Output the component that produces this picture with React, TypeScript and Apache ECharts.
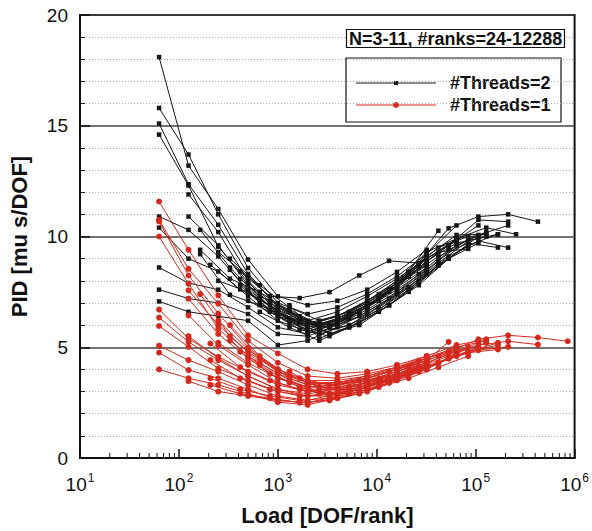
import React, { useEffect, useRef } from 'react';
import * as echarts from 'echarts';

const FONT = '"Liberation Sans", Arial, Helvetica, sans-serif';

// Load columns [DOF/rank] (rank count doubles between neighbouring points)
const XA = [63, 125, 250, 500, 1000, 2000, 4000, 8000, 16000, 32000, 64000, 128000, 256000, 512000];
const XE = [82, 164, 328, 656, 1312, 2624, 5248, 10496, 20992, 41984, 83968, 167936, 335872, 671744];
const XF = [104, 208, 416, 832, 1664, 3328, 6656, 13312, 26624, 53248, 106496, 212992, 425984, 851968];

type Run = { cols: number[]; start: number; pid: number[] };

// #Threads=2 (black)
const threads2: Run[] = [
  { cols: XA, start: 0, pid: [18.1, 13.2, 11.24, 8.96, 7.3, 6.9, 7.1, 7.6, 8.4, 9.4] },
  { cols: XA, start: 0, pid: [15.8, 13.7, 11.0, 8.58, 7.0, 6.5, 6.8, 7.4, 8.2, 9.2] },
  { cols: XA, start: 0, pid: [15.1, 12.36, 10.53, 8.31, 6.8, 6.2, 6.6, 7.3, 8.1, 9.0] },
  { cols: XA, start: 0, pid: [14.6, 12.3, 9.54, 7.94, 6.6, 6.0, 6.4, 7.1, 7.9, 8.8] },
  { cols: XA, start: 0, pid: [10.9, 10.3, 9.1, 7.52, 6.4, 5.8, 6.3, 7.0, 7.8, 8.7] },
  { cols: XA, start: 0, pid: [10.4, 9.0, 8.42, 7.3, 6.2, 5.7, 6.2, 6.9, 7.7, 8.6] },
  { cols: XA, start: 0, pid: [8.6, 7.9, 7.6, 6.8, 5.9, 5.6, 6.1, 6.8, 7.6, 8.5] },
  { cols: XA, start: 0, pid: [7.6, 7.2, 7.0, 6.5, 5.6, 5.5, 6.0, 6.7, 7.5, 8.4] },
  { cols: XA, start: 0, pid: [7.07, 6.6, 6.4, 6.2, 5.1, 5.3, 5.9, 6.6, 7.4, 8.3] },
  { cols: XA, start: 1, pid: [11.9, 10.2, 8.0, 6.7, 6.1, 6.4, 7.0, 7.9, 9.0, 9.8] },
  { cols: XA, start: 1, pid: [10.9, 9.6, 7.8, 6.5, 5.9, 6.3, 6.9, 7.8, 9.2, 10.5] },
  { cols: XA, start: 2, pid: [9.3, 8.2, 6.9, 6.1, 6.0, 6.5, 7.4, 8.5, 9.6, 10.2] },
  { cols: XA, start: 2, pid: [8.0, 7.5, 6.6, 5.9, 6.2, 6.9, 7.8, 9.1, 10.07, 10.1] },
  { cols: XA, start: 3, pid: [7.1, 6.4, 6.0, 6.4, 7.1, 8.0, 9.3, 9.9, 10.4, 10.1] },
  { cols: XA, start: 3, pid: [7.6, 6.6, 5.7, 6.1, 6.8, 7.7, 8.9, 9.7, 10.0] },
  { cols: XA, start: 4, pid: [6.8, 6.0, 6.2, 6.8, 7.8, 9.0, 9.9, 10.1] },
  { cols: XE, start: 1, pid: [10.3, 8.6, 7.2, 6.2, 5.7, 6.0, 6.7, 7.6, 8.7, 9.6] },
  { cols: XE, start: 1, pid: [9.4, 8.1, 7.5, 6.6, 6.0, 6.5, 7.2, 8.2, 9.3, 9.44] },
  { cols: XE, start: 1, pid: [9.2, 7.37, 6.9, 6.3, 5.8, 6.3, 7.2, 8.4, 10.26] },
  { cols: XE, start: 2, pid: [9.0, 7.8, 6.8, 6.2, 6.6, 7.4, 8.4, 9.5, 10.0] },
  { cols: XE, start: 2, pid: [8.5, 7.0, 6.1, 5.6, 6.0, 6.8, 7.7, 8.9, 9.9] },
  { cols: XE, start: 3, pid: [7.3, 6.7, 6.0, 6.4, 7.1, 8.2, 9.1, 9.7, 9.5] },
  { cols: XE, start: 3, pid: [6.6, 5.9, 5.3, 5.9, 6.6, 7.5, 8.7, 9.6, 10.1] },
  { cols: XE, start: 4, pid: [6.9, 5.4, 5.9, 6.7, 7.7, 8.8, 9.8, 10.1] },
  { cols: XF, start: 1, pid: [8.72, 7.61, 6.9, 6.1, 5.9, 6.6, 7.6, 8.8, 10.37, 10.9, 11.0, 10.67] },
  { cols: XF, start: 2, pid: [8.42, 7.3, 7.22, 7.49, 8.24, 8.9, 8.8, 9.6, 10.75, 10.67] },
  { cols: XF, start: 2, pid: [8.09, 7.0, 6.3, 6.0, 6.6, 7.5, 8.6, 9.6, 10.5] },
  { cols: XF, start: 2, pid: [7.8, 6.6, 5.8, 5.5, 6.1, 6.9, 7.9, 9.0, 9.7] },
  { cols: XF, start: 3, pid: [6.7, 6.2, 5.9, 6.4, 7.2, 8.3, 9.4, 10.07, 10.5] },
  { cols: XF, start: 3, pid: [7.1, 6.4, 5.6, 6.0, 6.9, 7.8, 9.0, 10.0] },
  { cols: XF, start: 4, pid: [6.3, 5.6, 6.1, 6.9, 8.0, 9.1, 9.8, 9.5] },
];

// #Threads=1 (red)
const threads1: Run[] = [
  { cols: XA, start: 0, pid: [11.58, 9.4, 7.34, 5.54, 4.72, 4.0, 3.8, 3.9, 4.2, 4.6] },
  { cols: XA, start: 0, pid: [10.75, 8.54, 6.97, 5.3, 4.3, 3.7, 3.6, 3.8, 4.1, 4.5] },
  { cols: XA, start: 0, pid: [10.68, 8.24, 6.52, 5.0, 4.0, 3.5, 3.5, 3.7, 4.0, 4.4] },
  { cols: XA, start: 0, pid: [10.0, 7.87, 5.84, 4.6, 3.8, 3.3, 3.4, 3.6, 4.0, 4.4] },
  { cols: XA, start: 0, pid: [6.7, 5.39, 4.57, 3.9, 3.3, 3.0, 3.2, 3.5, 3.9, 4.3] },
  { cols: XA, start: 0, pid: [6.34, 5.24, 4.42, 3.7, 3.1, 2.9, 3.1, 3.4, 3.8, 4.2] },
  { cols: XA, start: 0, pid: [5.96, 5.02, 4.04, 3.5, 3.0, 2.8, 3.0, 3.4, 3.8, 4.2] },
  { cols: XA, start: 0, pid: [5.07, 4.42, 3.9, 3.3, 2.8, 2.6, 2.9, 3.3, 3.7, 4.1] },
  { cols: XA, start: 0, pid: [4.76, 3.97, 3.6, 3.1, 2.6, 2.5, 2.8, 3.2, 3.7, 4.1] },
  { cols: XA, start: 0, pid: [4.0, 3.6, 3.3, 2.9, 2.52, 2.4, 2.7, 3.1, 3.6, 4.0] },
  { cols: XA, start: 1, pid: [7.57, 6.0, 4.8, 3.9, 3.4, 3.4, 3.6, 4.0, 4.5, 5.0] },
  { cols: XA, start: 1, pid: [7.19, 5.6, 4.5, 3.6, 3.2, 3.3, 3.5, 3.9, 4.4, 4.9] },
  { cols: XA, start: 1, pid: [6.44, 5.1, 4.2, 3.4, 3.0, 3.2, 3.4, 3.8, 4.3, 4.84] },
  { cols: XA, start: 1, pid: [5.5, 4.5, 3.7, 3.1, 2.8, 2.9, 3.2, 3.6, 4.1, 4.6] },
  { cols: XA, start: 1, pid: [3.47, 3.0, 2.8, 2.6, 2.5, 2.7, 3.0, 3.5, 4.0, 4.7] },
  { cols: XA, start: 2, pid: [6.2, 4.9, 4.0, 3.4, 3.3, 3.5, 3.8, 4.3, 4.8, 5.2] },
  { cols: XA, start: 2, pid: [5.2, 4.3, 3.6, 3.2, 3.3, 3.6, 4.0, 4.5, 5.0, 5.3] },
  { cols: XA, start: 3, pid: [4.9, 3.9, 3.4, 3.4, 3.7, 4.1, 4.6, 5.1, 5.36] },
  { cols: XE, start: 1, pid: [7.4, 5.5, 4.3, 3.5, 3.0, 3.2, 3.6, 4.1, 4.6, 5.0] },
  { cols: XE, start: 2, pid: [6.0, 4.6, 3.7, 3.2, 3.1, 3.4, 3.8, 4.3, 4.75, 4.9] },
  { cols: XE, start: 2, pid: [5.3, 4.2, 3.4, 2.9, 2.9, 3.2, 3.6, 4.1, 4.6] },
  { cols: XE, start: 3, pid: [4.5, 3.6, 3.1, 3.1, 3.4, 3.8, 4.3, 4.8, 5.1] },
  { cols: XE, start: 4, pid: [3.9, 3.2, 3.2, 3.5, 3.9, 4.3, 4.8, 5.2] },
  { cols: XF, start: 1, pid: [5.17, 4.1, 3.5, 3.1, 2.9, 3.2, 3.6, 4.1, 4.6, 5.1, 5.27, 5.12] },
  { cols: XF, start: 1, pid: [4.42, 3.6, 3.1, 2.8, 2.8, 3.1, 3.5, 4.0, 4.5, 4.87, 5.02] },
  { cols: XF, start: 1, pid: [3.6, 3.1, 2.8, 2.6, 2.7, 3.0, 3.4, 3.9, 4.5, 5.24] },
  { cols: XF, start: 1, pid: [3.3, 2.9, 2.7, 2.5, 2.6, 2.9, 3.4, 4.1, 5.24] },
  { cols: XF, start: 2, pid: [4.8, 3.8, 3.2, 2.9, 3.1, 3.5, 4.0, 4.5, 5.0] },
  { cols: XF, start: 4, pid: [3.6, 3.3, 3.5, 3.9, 4.4, 4.8, 5.36, 5.54, 5.44, 5.27] },
];

const TITLE = 'N=3-11, #ranks=24-12288';
const LEGEND_NAMES = ['#Threads=2', '#Threads=1'];
const X_NAME = 'Load [DOF/rank]';
const Y_NAME = 'PID [mu s/DOF]';

const BLACK = '#161616';
const RED = '#d3291e';

function runData(r: Run) {
  return r.pid.map((y, i) => [r.cols[r.start + i], y]);
}

function minorTickValues() {
  const out: number[][] = [];
  for (let k = 1; k <= 5; k++) {
    for (let m = 2; m <= 9; m++) out.push([m * Math.pow(10, k), 0]);
  }
  return out;
}

function buildOption(): any {
  const blackSeries = threads2.map((r, i) => ({
    type: 'line',
    name: LEGEND_NAMES[0],
    id: 'b' + i,
    data: runData(r),
    symbol: 'rect',
    symbolSize: 4.5,
    lineStyle: { color: BLACK, width: 1 },
    itemStyle: { color: BLACK },
    z: 3,
  }));
  const redSeries = threads1.map((r, i) => ({
    type: 'line',
    name: LEGEND_NAMES[1],
    id: 'r' + i,
    data: runData(r),
    symbol: 'circle',
    symbolSize: 6,
    lineStyle: { color: RED, width: 1 },
    itemStyle: { color: RED },
    z: 4,
  }));
  const minorTicks = {
    type: 'custom',
    name: 'minorTicks',
    coordinateSystem: 'cartesian2d',
    data: minorTickValues(),
    encode: { x: 0, y: 1 },
    clip: false,
    silent: true,
    z: 6,
    renderItem: (_p: any, api: any) => {
      const pt = api.coord([api.value(0), 0]);
      return {
        type: 'line',
        shape: { x1: pt[0], y1: pt[1], x2: pt[0], y2: pt[1] - 5 },
        style: { stroke: '#111', lineWidth: 1 },
      };
    },
  };

  return {
    animation: false,
    backgroundColor: '#fff',
    title: {
      text: TITLE,
      left: 346,
      top: 29,
      borderColor: '#111',
      borderWidth: 1.2,
      backgroundColor: '#fff',
      padding: [1, 3, 0, 3],
      textStyle: { fontFamily: FONT, fontWeight: 'bold', fontSize: 18, color: '#111', lineHeight: 18 },
      z: 10,
    },
    grid: { left: 79, right: 9, top: 15, bottom: 71, show: true, borderColor: '#111', borderWidth: 2 },
    xAxis: {
      type: 'log',
      logBase: 10,
      min: 10,
      max: 1000000,
      axisLine: { show: true, lineStyle: { color: '#111', width: 2 } },
      axisTick: { show: true, inside: true, length: 9, lineStyle: { color: '#111', width: 1.5 } },
      minorTick: { show: false },
      splitLine: { show: false },
      axisLabel: {
        margin: 14,
        formatter: (v: number) => '{b|10}{s|' + Math.round(Math.log10(v)) + '}',
        rich: {
          b: { fontFamily: FONT, fontSize: 19, color: '#111', lineHeight: 22, verticalAlign: 'bottom' },
          s: { fontFamily: FONT, fontSize: 12, color: '#111', lineHeight: 22, verticalAlign: 'top', padding: [0, 0, 0, 1] },
        },
      },
      name: X_NAME,
      nameLocation: 'middle',
      nameGap: 46,
      nameTextStyle: { fontFamily: FONT, fontWeight: 'bold', fontSize: 22, color: '#111' },
    },
    yAxis: {
      type: 'value',
      min: 0,
      max: 20,
      interval: 5,
      axisLine: { show: true, lineStyle: { color: '#111', width: 2 } },
      axisTick: { show: true, inside: true, length: 10, lineStyle: { color: '#111', width: 1.5 } },
      minorTick: { show: true, splitNumber: 5, length: 5, lineStyle: { color: '#111', width: 1 } },
      splitLine: { show: true, lineStyle: { color: '#444', width: 1.5 } },
      minorSplitLine: { show: true, lineStyle: { color: '#b0b0b0', width: 1, type: [1, 2] } },
      axisLabel: { fontFamily: FONT, fontSize: 19, color: '#111', margin: 12 },
      name: Y_NAME,
      nameLocation: 'middle',
      nameGap: 50,
      nameTextStyle: { fontFamily: FONT, fontWeight: 'bold', fontSize: 22, color: '#111' },
    },
    graphic: [
      {
        type: 'group',
        z: 100,
        children: [
          { type: 'rect', shape: { x: 346, y: 58, width: 215, height: 64 }, style: { fill: '#fff', stroke: '#111', lineWidth: 1.2 } },
          { type: 'line', shape: { x1: 356, y1: 83, x2: 436, y2: 83 }, style: { stroke: BLACK, lineWidth: 1 } },
          { type: 'rect', shape: { x: 394, y: 81, width: 4, height: 4 }, style: { fill: BLACK } },
          { type: 'text', x: 450, y: 83, style: { text: LEGEND_NAMES[0], fill: '#111', font: 'bold 18px ' + FONT, verticalAlign: 'middle' } },
          { type: 'line', shape: { x1: 356, y1: 105, x2: 436, y2: 105 }, style: { stroke: RED, lineWidth: 1 } },
          { type: 'circle', shape: { cx: 396, cy: 105, r: 3 }, style: { fill: RED } },
          { type: 'text', x: 450, y: 105, style: { text: LEGEND_NAMES[1], fill: '#111', font: 'bold 18px ' + FONT, verticalAlign: 'middle' } },
        ],
      },
    ],
    series: [...blackSeries, ...redSeries, minorTicks],
  };
}

export default function App() {
  const ref = useRef<HTMLDivElement>(null);
  useEffect(() => {
    const chart = echarts.init(ref.current!, null, { renderer: 'svg' });
    chart.setOption(buildOption());
    return () => chart.dispose();
  }, []);
  return <div ref={ref} style={{ position: 'fixed', left: 0, top: 0, width: 592, height: 531 }} />;
}
